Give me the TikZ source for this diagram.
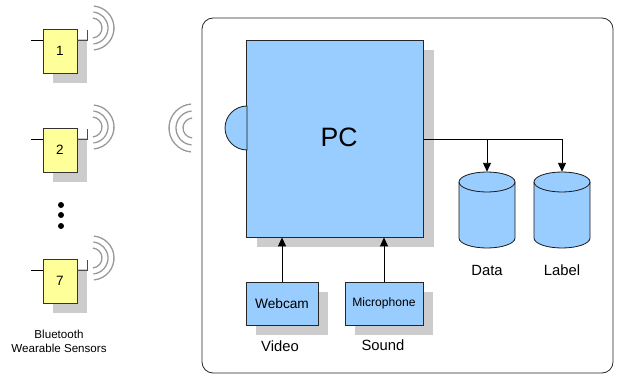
\documentclass[tikz,border=0pt]{standalone}
\usepackage{fontspec}
\setmainfont{Liberation Sans}
\usetikzlibrary{shadows,arrows.meta,calc}
\definecolor{boxblue}{HTML}{99CCFF}
\definecolor{boxyellow}{HTML}{FFFF99}
\definecolor{shadowgray}{HTML}{CCCCCC}
\definecolor{wavegray}{HTML}{999999}
\tikzset{
  shadowed/.style={drop shadow={shadow xshift=10pt, shadow yshift=-10pt, fill=shadowgray, opacity=1}},
  sensor/.style={draw=black!80, fill=boxyellow, minimum width=34pt, minimum height=44pt, inner sep=0pt, font=\fontsize{13.5}{15}\selectfont, shadowed, line width=0.8pt},
  bluebox/.style={draw=black!85, fill=boxblue, inner sep=0pt, shadowed, line width=0.8pt},
  wave/.style={draw=wavegray, line width=1.3pt},
  conn/.style={draw=black, line width=0.9pt},
  arr/.style={conn, -{Triangle[length=9pt,width=8pt]}},
  lbl/.style={font=\fontsize{14.8}{17}\selectfont},
}
\begin{document}
\begin{tikzpicture}[x=1pt,y=-1pt]
\useasboundingbox (0,0) rectangle (617,377);
% station frame
\node (station) [draw=black!85, line width=0.8pt, rounded corners=11pt, minimum width=411pt, minimum height=355pt, inner sep=0pt] at (407.5,195.5) {};
% sensors
\foreach \n/\y in {1/51, 2/150, 7/281} {
  \node (s\n) [sensor] at (60,\y) {\n};
  \draw[conn, line width=0.6pt] ([yshift=11pt]s\n.west) -- ++(-12,0);
  \draw[draw=black!70, line width=0.6pt] ([yshift=11pt]s\n.east) -- ++(10,0) -- ++(0,-10);
  \coordinate (w\n) at (92,\y-23);
  \foreach \r in {10,16,22} {
    \draw[wave] ($(w\n)+(85:\r)$) arc[start angle=85, end angle=-85, radius=\r];
  }
}
\foreach \y in {205,215,226} { \fill (61,\y) circle (3); }
\node (bt) [align=center, font=\fontsize{11.6}{14}\selectfont] at (59,341) {Bluetooth\\Wearable Sensors};
% PC
\coordinate (rx) at (193,128);
\foreach \r in {10,17,24} {
  \draw[wave] ($(rx)+(95:\r)$) arc[start angle=95, end angle=265, radius=\r];
}
\node (pc) [bluebox, minimum width=177pt, minimum height=197pt] at (335,138.5) {};
\node (pctext) [font=\fontsize{26.6}{30}\selectfont] at (339,137) {PC};
\draw[draw=black!90, fill=boxblue, line width=0.8pt] (247,150) arc[start angle=90, end angle=270, radius=22] -- cycle;
% inputs
\node (cam) [bluebox, minimum width=72pt, minimum height=43pt, font=\fontsize{13.7}{15}\selectfont] at (282,303.5) {Webcam};
\node (mic) [bluebox, minimum width=78pt, minimum height=43pt, font=\fontsize{12.1}{14}\selectfont] at (384,303.5) {Microphone};
\node (video) [lbl] at (280,346) {Video};
\node (sound) [lbl] at (383,345) {Sound};
\draw[arr] (cam.north) -- (cam.north |- pc.south);
\draw[arr] (mic.north) -- (mic.north |- pc.south);
% storage
\foreach \nm/\x/\t in {data/487/Data, label/562/Label} {
  \node (\nm) [minimum width=56pt, minimum height=76pt, inner sep=0pt] at (\x,210) {};
  \draw[draw=black!90, fill=boxblue, line width=0.8pt]
    (\x-28,182) -- (\x-28,238) arc[start angle=180, end angle=0, x radius=28, y radius=10]
    -- (\x+28,182) arc[start angle=0, end angle=-180, x radius=28, y radius=10] -- cycle;
  \draw[draw=black!90, line width=0.8pt] (\x-28,182) arc[start angle=180, end angle=0, x radius=28, y radius=10];
  \node (\nm t) [lbl] at (\x,270) {\t};
}
\coordinate (split) at (487,139);
\draw[conn] (pc.east |- split) -- (label.north |- split);
\draw[arr] (split) -- (data.north);
\draw[arr] (label.north |- split) -- (label.north);
\end{tikzpicture}
\end{document}
